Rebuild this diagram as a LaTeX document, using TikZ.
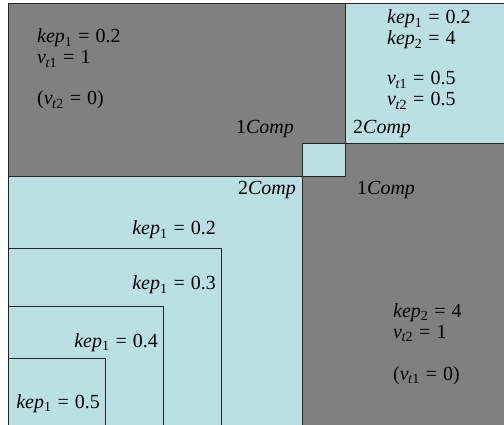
\documentclass[tikz,border=0pt]{standalone}
\usepackage{fontspec}
\setmainfont{Liberation Serif}
\definecolor{cgray}{RGB}{128,128,128}
\definecolor{ccyan}{RGB}{186,224,228}
\newcommand{\eqs}{\hspace{0.3em}=\hspace{0.3em}}
\newcommand{\kp}[2]{\textit{kep}\textsubscript{#1}\eqs#2}
\newcommand{\vt}[2]{\textit{v}\textsubscript{\kern-0.5pt\textit{t}#1}\eqs#2}
\newcommand{\cmp}[1]{#1\textit{Comp}}
\begin{document}
\begin{tikzpicture}[x=1pt,y=-1pt,
  lbl/.style={inner sep=0pt, font=\fontsize{20}{22}\selectfont},
  edge/.style={draw=black!85, line width=0.8pt}]
\useasboundingbox (0,0) rectangle (504,425);
% regions
\fill[cgray] (8,3) rectangle (504,425);
\fill[ccyan] (345,3) rectangle (504,143);
\fill[ccyan] (302,143) rectangle (345,176);
\fill[ccyan] (8,176) rectangle (302,425);
% borders
\draw[edge] (8,425) -- (8,3) -- (504,3);
\draw[edge] (345,3) -- (345,143) -- (504,143);
\draw[edge] (302,143) rectangle (345,176);
\draw[edge] (8,176) -- (302,176) -- (302,425);
\draw[edge] (8,248) -| (221,425);
\draw[edge] (8,306) -| (163,425);
\draw[edge] (8,358) -| (105,425);
% top-left
\node[lbl, anchor=base west] (tl1) at (37,43) {\kp{1}{0.2}};
\node[lbl, anchor=base west] (tl2) at (37,64) {\vt{1}{1}};
\node[lbl, anchor=base west] (tl3) at (37,105) {(\vt{2}{0})};
% top-right
\node[lbl, anchor=base west] (tr1) at (387,24) {\kp{1}{0.2}};
\node[lbl, anchor=base west] (tr2) at (387,45) {\kp{2}{4}};
\node[lbl, anchor=base west] (tr3) at (387,85) {\vt{1}{0.5}};
\node[lbl, anchor=base west] (tr4) at (387,106) {\vt{2}{0.5}};
% comp labels
\node[lbl, anchor=base east] (c1a) at (294,134) {\cmp{1}};
\node[lbl, anchor=base west] (c2a) at (353,134) {\cmp{2}};
\node[lbl, anchor=base east] (c2b) at (296,195) {\cmp{2}};
\node[lbl, anchor=base west] (c1b) at (357,195) {\cmp{1}};
% nested
\node[lbl, anchor=base east] (k2) at (216,235) {\kp{1}{0.2}};
\node[lbl, anchor=base east] (k3) at (216,290) {\kp{1}{0.3}};
\node[lbl, anchor=base east] (k4) at (158,347) {\kp{1}{0.4}};
\node[lbl, anchor=base east] (k5) at (100,408) {\kp{1}{0.5}};
% bottom-right
\node[lbl, anchor=base west] (br1) at (393,317) {\kp{2}{4}};
\node[lbl, anchor=base west] (br2) at (393,338) {\vt{2}{1}};
\node[lbl, anchor=base west] (br3) at (393,380) {(\vt{1}{0})};
\end{tikzpicture}
\end{document}
